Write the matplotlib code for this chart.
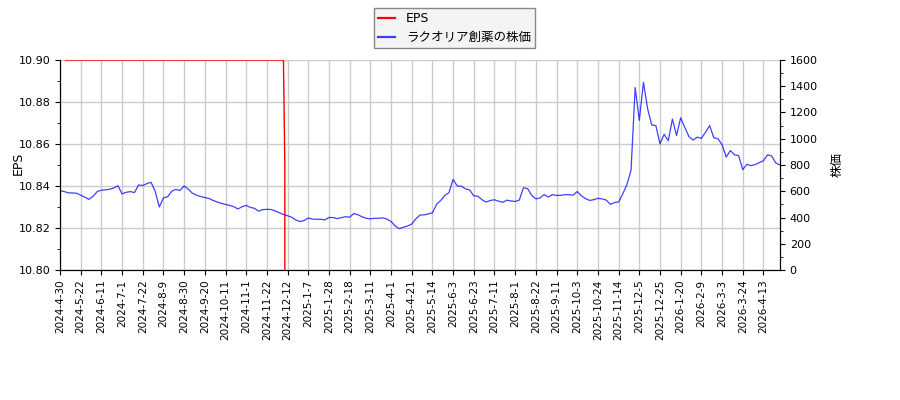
import numpy as np
import matplotlib
matplotlib.use("Agg")
import matplotlib.pyplot as plt
from matplotlib.ticker import MultipleLocator, FormatStrFormatter

plt.rcParams['font.family'] = ['DejaVu Sans', 'Noto Sans CJK JP']

# tick labels (one every 15 trading days)
tick_labels = ["2024-4-30", "2024-5-22", "2024-6-11", "2024-7-1", "2024-7-22", "2024-8-9",
               "2024-8-30", "2024-9-20", "2024-10-11", "2024-11-1", "2024-11-22", "2024-12-12",
               "2025-1-7", "2025-1-28", "2025-2-18", "2025-3-11", "2025-4-1", "2025-4-21",
               "2025-5-14", "2025-6-3", "2025-6-23", "2025-7-11", "2025-8-1", "2025-8-22",
               "2025-9-11", "2025-10-3", "2025-10-24", "2025-11-14", "2025-12-5", "2025-12-25",
               "2026-1-20", "2026-2-9", "2026-3-3", "2026-3-24", "2026-4-13"]
tick_step_days = 15

# stock price, sampled every 3 trading days
price_step_days = 3
price = [604, 598, 588, 587, 585, 570, 555, 538, 562, 598,
         608, 611, 615, 625, 642, 580, 592, 597, 590, 648,
         644, 658, 668, 600, 480, 550, 558, 600, 614, 606,
         640, 616, 585, 570, 560, 552, 545, 530, 518, 508,
         500, 492, 482, 465, 482, 492, 477, 470, 448, 460,
         462, 461, 450, 436, 424, 413, 402, 381, 369, 377,
         396, 388, 387, 386, 382, 400, 400, 391, 399, 406,
         402, 430, 421, 405, 394, 390, 394, 394, 397, 388,
         370, 335, 315, 326, 335, 350, 390, 419, 420, 428,
         435, 500, 530, 568, 590, 690, 640, 638, 618, 610,
         565, 562, 535, 518, 530, 535, 524, 516, 532, 526,
         522, 533, 627, 620, 568, 542, 549, 575, 556, 574,
         568, 569, 574, 574, 570, 598, 566, 544, 530, 536,
         546, 542, 533, 500, 514, 518, 580, 650, 760, 1390,
         1140, 1430, 1230, 1105, 1100, 960, 1034, 985, 1150, 1025,
         1160, 1085, 1016, 990, 1012, 1003, 1050, 1100, 1008, 1000,
         955, 860, 910, 878, 872, 765, 805, 795, 803, 818,
         832, 878, 868, 815, 800]

# EPS per trading day: (start day, value) steps
eps_steps = [(4, 10.90), (163, 10.85), (164, 5.0)]

n_days = (len(price) - 1) * price_step_days + 1
x_price = np.arange(len(price)) * price_step_days

eps = np.full(n_days, np.nan)
for i, (start, val) in enumerate(eps_steps):
    end = eps_steps[i + 1][0] if i + 1 < len(eps_steps) else n_days
    eps[start:end] = val

fig = plt.figure(figsize=(9, 4), dpi=100)
ax = fig.add_axes([60 / 900, 130 / 400, 720 / 900, 210 / 400])
ax2 = ax.twinx()

l1, = ax.plot(np.arange(n_days), eps, color='red', lw=1.0, label='EPS')
l2, = ax2.plot(x_price, price, color='blue', alpha=0.75, lw=0.9, label='ラクオリア創薬の株価')

ax.set_xlim(0, n_days - 1)
ax.set_ylim(10.80, 10.90)
ax2.set_ylim(0, 1600)

ax.set_xticks(np.arange(len(tick_labels)) * tick_step_days)
ax.set_xticklabels(tick_labels, rotation=90, fontsize=7.5)
ax.yaxis.set_major_locator(MultipleLocator(0.02))
ax.yaxis.set_minor_locator(MultipleLocator(0.01))
ax.yaxis.set_major_formatter(FormatStrFormatter('%.2f'))
ax2.yaxis.set_major_locator(MultipleLocator(200))
ax2.yaxis.set_minor_locator(MultipleLocator(100))
ax.tick_params(axis='y', labelsize=8)
ax2.tick_params(axis='y', labelsize=8)

for a in (ax, ax2):
    a.spines['top'].set_visible(False)

ax.grid(True, color='#cccccc', lw=1.0)
ax.set_axisbelow(True)

ax.set_ylabel('EPS', fontsize=9)
ax.yaxis.set_label_coords(-0.049, 0.51)
ax2.set_ylabel('株価', fontsize=9)
ax2.yaxis.set_label_coords(1.07, 0.5)

leg = fig.legend(handles=[l1, l2], loc='upper center', bbox_to_anchor=(0.505, 0.98),
                 borderaxespad=0.0, borderpad=0.35, handlelength=1.3, handletextpad=0.9,
                 labelspacing=0.45,
                 fontsize=9, fancybox=False, edgecolor='#888888', facecolor='#f4f4f4',
                 framealpha=1.0)
for h in leg.get_lines():
    h.set_linewidth(1.6)

fig.savefig('out.png', dpi=100)
